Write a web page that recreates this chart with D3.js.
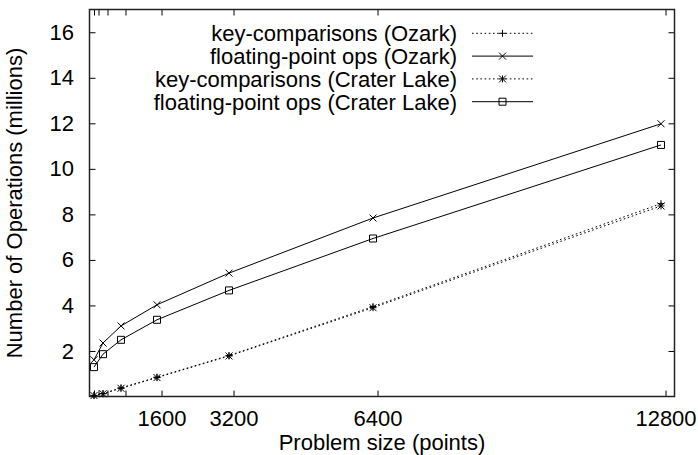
<!DOCTYPE html>
<html><head><meta charset="utf-8">
<script src="https://cdn.jsdelivr.net/npm/d3@7"></script>
<style>
body{margin:0;background:#fff}
svg{display:block}
text{font-family:"Liberation Sans",Arial,Helvetica,sans-serif;fill:#000}
</style>
</head><body>
<svg id="c" width="698" height="455"></svg>
<script>
// ---- data ----
const problemSizes = [100, 300, 700, 1500, 3100, 6300, 12700];
const keyCompOzark   = [0.05, 0.13, 0.38, 0.85, 1.80, 3.95, 8.47];
const flopsOzark     = [1.61, 2.35, 3.10, 4.03, 5.42, 7.84, 11.98];
const keyCompCrater  = [0.04, 0.12, 0.36, 0.83, 1.78, 3.90, 8.37];
const flopsCrater    = [1.29, 1.86, 2.49, 3.37, 4.66, 6.94, 11.05];
const seriesNames = ["key-comparisons (Ozark)", "floating-point ops (Ozark)",
                     "key-comparisons (Crater Lake)", "floating-point ops (Crater Lake)"];
const xTickValues = [100, 200, 400, 800, 1600, 3200, 6400, 12800];
const xTickLabels = {1600: "1600", 3200: "3200", 6400: "6400", 12800: "12800"};
const yTickValues = [2, 4, 6, 8, 10, 12, 14, 16];
const xTitle = "Problem size (points)";
const yTitle = "Number of Operations (millions)";

// ---- chart ----
const svg = d3.select("#c");
const L = 89.5, R = 674.5, T = 9.5, B = 396.5;
const x = d3.scaleLinear().domain([0, 13000]).range([L, R]);
const y = d3.scaleLinear().domain([0, 17]).range([B, T]);

const FS = "22px";

// axes (ticks inward, mirrored)
const gB = svg.append("g").attr("transform", `translate(0,${B})`)
  .call(d3.axisBottom(x).tickValues(xTickValues).tickSizeInner(-6).tickSizeOuter(0)
        .tickPadding(13.5).tickFormat(d => xTickLabels[d] || ""));
const gT = svg.append("g").attr("transform", `translate(0,${T})`)
  .call(d3.axisTop(x).tickValues(xTickValues).tickSizeInner(-6).tickSizeOuter(0).tickFormat(""));
const gL = svg.append("g").attr("transform", `translate(${L},0)`)
  .call(d3.axisLeft(y).tickValues(yTickValues).tickSizeInner(-6).tickSizeOuter(0)
        .tickPadding(15.5).tickFormat(d3.format("d")));
const gR = svg.append("g").attr("transform", `translate(${R},0)`)
  .call(d3.axisRight(y).tickValues(yTickValues).tickSizeInner(-6).tickSizeOuter(0).tickFormat(""));
[gB, gT, gL, gR].forEach(g => {
  g.select(".domain").remove();
  g.attr("font-size", null).attr("font-family", null);
  g.selectAll(".tick line").attr("stroke", "#000").attr("stroke-width", 1);
  g.selectAll(".tick text").style("font-size", FS).attr("fill", "#000");
});

// frame
svg.append("rect").attr("x", L).attr("y", T).attr("width", R - L).attr("height", B - T)
  .attr("fill", "none").attr("stroke", "#222").attr("stroke-width", 1.5);

// titles
svg.append("text").attr("x", (L + R) / 2).attr("y", 450).attr("text-anchor", "middle")
  .style("font-size", FS).text(xTitle);
svg.append("text").attr("transform", `translate(22,${(T + B) / 2}) rotate(-90)`)
  .attr("text-anchor", "middle").style("font-size", FS).text(yTitle);

// markers
function marker(type, cx, cy, s) {
  const plus = `M${cx - s},${cy}H${cx + s}M${cx},${cy - s}V${cy + s}`;
  const cross = `M${cx - s},${cy - s}L${cx + s},${cy + s}M${cx - s},${cy + s}L${cx + s},${cy - s}`;
  if (type === "plus") return plus;
  if (type === "cross") return cross;
  if (type === "star") return plus + cross;
  return `M${cx - s},${cy - s}H${cx + s}V${cy + s}H${cx - s}Z`;
}

const series = [
  {name: seriesNames[0], values: keyCompOzark,  dash: "1.6,2.6", sym: "plus"},
  {name: seriesNames[1], values: flopsOzark,    dash: null,      sym: "cross"},
  {name: seriesNames[2], values: keyCompCrater, dash: "1.6,2.6", sym: "star"},
  {name: seriesNames[3], values: flopsCrater,   dash: null,      sym: "square"}
];

const line = d3.line().x((d, i) => x(problemSizes[i])).y(d => y(d));

series.forEach(s => {
  svg.append("path").attr("d", line(s.values)).attr("fill", "none")
    .attr("stroke", "#000").attr("stroke-width", 1)
    .attr("stroke-dasharray", s.dash);
  svg.append("path")
    .attr("d", s.values.map((v, i) => marker(s.sym, x(problemSizes[i]), y(v), 3.5)).join(""))
    .attr("fill", "none").attr("stroke", "#000").attr("stroke-width", 1);
});

// legend
const legTextX = 457, legL = 472, legR = 533, legY0 = 33.3, legDY = 22.8;
series.forEach((s, i) => {
  const cy = legY0 + i * legDY;
  svg.append("text").attr("x", legTextX).attr("y", cy + 7.8).attr("text-anchor", "end")
    .style("font-size", FS).text(s.name);
  svg.append("line").attr("x1", legL).attr("x2", legR).attr("y1", cy).attr("y2", cy)
    .attr("stroke", "#000").attr("stroke-width", 1).attr("stroke-dasharray", s.dash);
  svg.append("path").attr("d", marker(s.sym, (legL + legR) / 2, cy, 3.5))
    .attr("fill", "none").attr("stroke", "#000").attr("stroke-width", 1);
});
</script>
</body></html>
